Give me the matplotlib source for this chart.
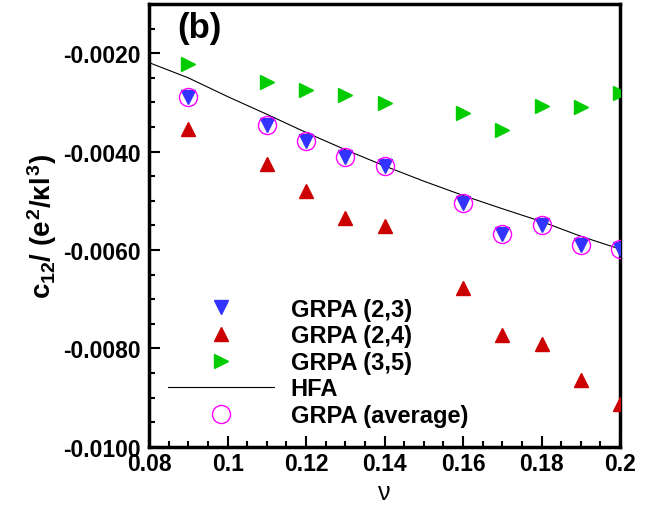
import matplotlib
matplotlib.use("Agg")
import matplotlib.pyplot as plt
from matplotlib.ticker import MultipleLocator, FormatStrFormatter

plt.rcParams["font.family"] = ["Liberation Sans", "DejaVu Sans"]
plt.rcParams["font.weight"] = "bold"
plt.rcParams["mathtext.fontset"] = "custom"
plt.rcParams["mathtext.rm"] = "Liberation Sans:bold"
plt.rcParams["mathtext.it"] = "Liberation Sans:bold"
plt.rcParams["mathtext.bf"] = "Liberation Sans:bold"

nu = [0.09, 0.11, 0.12, 0.13, 0.14, 0.16, 0.17, 0.18, 0.19, 0.20]

grpa_23 = [-0.00289, -0.00346, -0.00379, -0.00410, -0.00429,
           -0.00505, -0.00567, -0.00550, -0.00590, -0.00598]
grpa_24 = [-0.00354, -0.00425, -0.00479, -0.00535, -0.00552,
           -0.00677, -0.00772, -0.00791, -0.00865, -0.00913]
grpa_35 = [-0.00221, -0.00259, -0.00274, -0.00284, -0.00302,
           -0.00322, -0.00356, -0.00308, -0.00310, -0.00280]
grpa_avg = [-0.00289, -0.00346, -0.00379, -0.00410, -0.00429,
            -0.00505, -0.00567, -0.00550, -0.00590, -0.00598]

hfa_nu = [0.08, 0.09, 0.10, 0.11, 0.12, 0.13, 0.14, 0.15, 0.16, 0.17, 0.18, 0.19, 0.20]
hfa = [-0.00219, -0.00250, -0.00288, -0.00324, -0.00361, -0.00396, -0.00429,
       -0.00460, -0.00489, -0.00516, -0.00542, -0.00572, -0.00598]

fig = plt.figure(figsize=(6.54, 5.10), dpi=100)
ax = fig.add_axes([0.228, 0.122, 0.720, 0.868])

ax.plot(hfa_nu, hfa, color='black', lw=0.8, label="HFA", zorder=2)
ax.plot(nu, grpa_23, 'v', color='#3333ff', ms=10, mec='#3333ff', label="GRPA (2,3)", zorder=3)
ax.plot(nu, grpa_24, '^', color='#cc0000', ms=10, mec='#cc0000', label="GRPA (2,4)", zorder=3)
ax.plot(nu, grpa_35, '>', color='#00cc00', ms=10, mec='#00cc00', label="GRPA (3,5)", zorder=3)
ax.plot(nu, grpa_avg, 'o', mfc='none', mec='#ff00ff', mew=1.0, ms=13, label="GRPA (average)", zorder=4)

ax.set_xlim(0.08, 0.2)
ax.set_ylim(-0.0100, -0.0010)
ax.xaxis.set_major_locator(MultipleLocator(0.02))
ax.xaxis.set_minor_locator(MultipleLocator(0.005))
ax.yaxis.set_major_locator(MultipleLocator(0.002))
ax.yaxis.set_minor_locator(MultipleLocator(0.0005))
ax.xaxis.set_major_formatter(plt.FuncFormatter(lambda v, p: f"{v:g}"))
ax.yaxis.set_major_formatter(FormatStrFormatter("%.4f"))
ax.tick_params(which='both', direction='in', top=False, right=False, width=1.5)
ax.tick_params(which='major', length=8, labelsize=16.5)
ax.tick_params(axis='y', which='major', pad=6)
ax.tick_params(axis='x', which='major', pad=4)
ax.tick_params(which='minor', length=4)
for sp in ax.spines.values():
    sp.set_linewidth(2.5)

ax.set_ylabel(r"$c_{12}/\ (e^2/\kappa l^3)$", fontsize=20, labelpad=3)
ax.set_xlabel("ν", fontsize=18, fontweight='normal', labelpad=3)

ax.text(0.06, 0.985, "(b)", transform=ax.transAxes, fontsize=25, fontweight='bold',
        va='top', ha='left')

handles, labels = ax.get_legend_handles_labels()
order = [1, 2, 3, 0, 4]
ax.legend([handles[i] for i in order], [labels[i] for i in order],
          loc='lower left', bbox_to_anchor=(0.04, 0.045), frameon=False,
          borderpad=0, borderaxespad=0,
          fontsize=17, handlelength=4.5, handletextpad=0.7, labelspacing=0.15)

fig.savefig("out.png", dpi=100)
